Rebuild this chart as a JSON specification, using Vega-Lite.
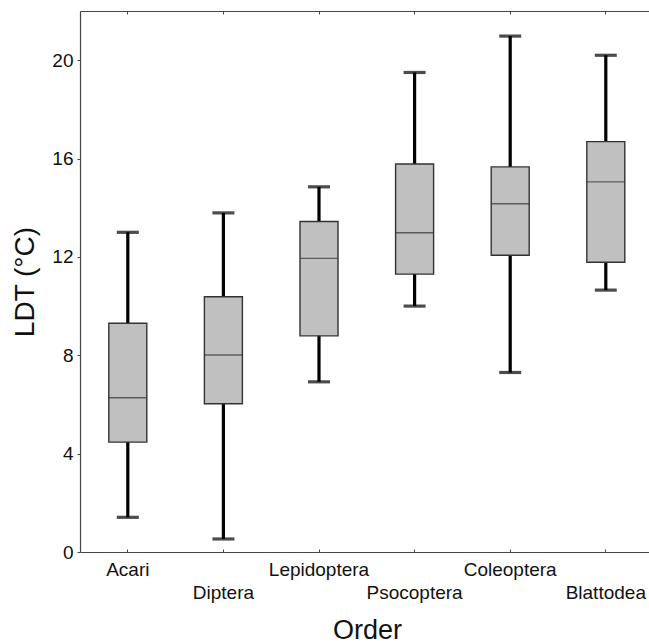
{
  "$schema": "https://vega.github.io/schema/vega-lite/v6.json",
  "autosize": {"type": "none"},
  "padding": {"left": 80, "top": 11, "right": 9, "bottom": 92},
  "width": 560,
  "height": 541,
  "background": "white",
  "view": {"stroke": null, "fill": null},
  "config": {
    "view": {"stroke": null},
    "font": "Liberation Sans",
    "axis": {
      "labelFont": "Liberation Sans",
      "titleFont": "Liberation Sans",
      "labelColor": "#111",
      "titleColor": "#111",
      "domainColor": "#444",
      "tickColor": "#444",
      "grid": false
    }
  },
  "data": {
    "values": [
      {"order": "Acari", "lo": 1.41, "q1": 4.47, "med": 6.27, "q3": 9.30, "hi": 13.0},
      {"order": "Diptera", "lo": 0.53, "q1": 6.03, "med": 8.01, "q3": 10.38, "hi": 13.79},
      {"order": "Lepidoptera", "lo": 6.92, "q1": 8.79, "med": 11.94, "q3": 13.44, "hi": 14.85},
      {"order": "Psocoptera", "lo": 10.0, "q1": 11.30, "med": 12.98, "q3": 15.78, "hi": 19.5},
      {"order": "Coleoptera", "lo": 7.30, "q1": 12.07, "med": 14.16, "q3": 15.66, "hi": 20.98},
      {"order": "Blattodea", "lo": 10.65, "q1": 11.78, "med": 15.05, "q3": 16.69, "hi": 20.2}
    ]
  },
  "resolve": {"axis": {"x": "independent"}},
  "layer": [
    {
      "mark": {"type": "rule", "color": "black", "strokeWidth": 3.2},
      "encoding": {
        "x": {
          "field": "order", "type": "nominal", "sort": null,
          "scale": {"type": "band", "range": [0, 573.6], "paddingInner": 0, "paddingOuter": 0},
          "axis": {
            "orient": "bottom",
            "title": "Order",
            "titleFontSize": 27,
            "titleFontWeight": "normal",
            "titleX": 287,
            "titleY": 86,
            "titleBaseline": "alphabetic",
            "labelFontSize": 19,
            "labelAngle": 0,
            "labelBaseline": "top",
            "labelLineHeight": 23,
            "labelPadding": 11,
            "labelExpr": "indexof(['Diptera','Psocoptera','Blattodea'], datum.label) >= 0 ? ['', datum.label] : datum.label",
            "tickSize": -3,
            "domainWidth": 1.2
          }
        },
        "y": {
          "field": "lo", "type": "quantitative",
          "scale": {"domain": [0, 22], "nice": false},
          "axis": {
            "title": "LDT (°C)",
            "titleFontSize": 28,
            "titleFontWeight": "normal",
            "titlePadding": 12,
            "values": [0, 4, 8, 12, 16, 20],
            "labelFontSize": 19,
            "labelPadding": 4,
            "tickSize": 3,
            "domainWidth": 1.2
          }
        },
        "y2": {"field": "hi"}
      }
    },
    {
      "mark": {"type": "tick", "color": "black", "size": 22, "thickness": 3.2},
      "encoding": {
        "x": {
          "field": "order", "type": "nominal", "sort": null,
          "axis": {"orient": "top", "title": null, "labels": false, "tickSize": -3, "domainWidth": 1.2}
        },
        "y": {"field": "lo", "type": "quantitative"}
      }
    },
    {
      "mark": {"type": "tick", "color": "black", "size": 22, "thickness": 3.2},
      "encoding": {
        "x": {"field": "order", "type": "nominal", "sort": null, "axis": null},
        "y": {"field": "hi", "type": "quantitative"}
      }
    },
    {
      "mark": {"type": "bar", "size": 38, "fill": "#c0c0c0", "stroke": "#333333", "strokeWidth": 1.4},
      "encoding": {
        "x": {"field": "order", "type": "nominal", "sort": null, "axis": null},
        "y": {"field": "q1", "type": "quantitative"},
        "y2": {"field": "q3"}
      }
    },
    {
      "mark": {"type": "tick", "color": "#333333", "size": 38, "thickness": 1.4},
      "encoding": {
        "x": {"field": "order", "type": "nominal", "sort": null, "axis": null},
        "y": {"field": "med", "type": "quantitative"}
      }
    }
  ]
}
